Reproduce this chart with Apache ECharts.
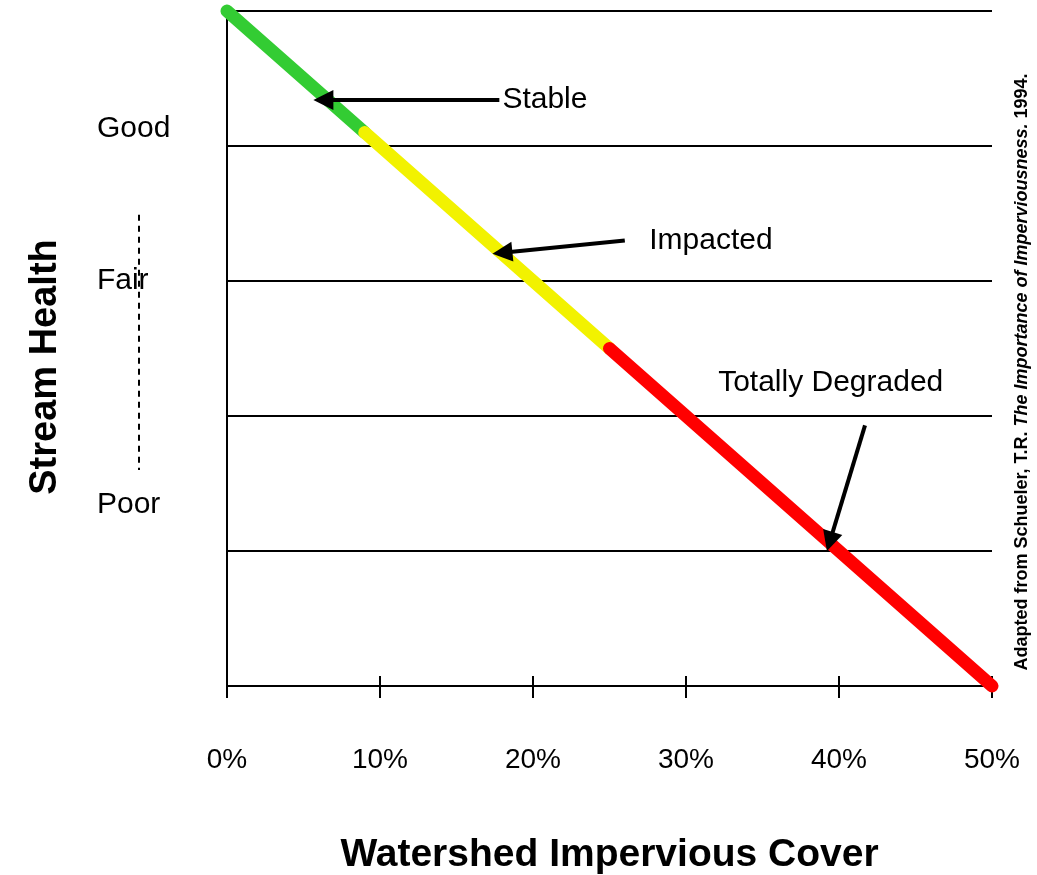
<!DOCTYPE html>
<html>
<head>
<meta charset="utf-8">
<script src="https://cdn.jsdelivr.net/npm/echarts@6/dist/echarts.min.js"></script>
<style>
  html, body { margin: 0; padding: 0; background: #fff; }
  #chart { width: 1037px; height: 875px; }
</style>
</head>
<body>
<div id="chart"></div>
<script>
// stream health declines as impervious cover grows
const coverPct = [0, 9, 25, 50];
const healthScore = [5, 4.1, 2.5, 0];
const segmentColors = ['#33cc33', '#f2f200', '#ff0000'];

const xTicks = [0, 10, 20, 30, 40, 50];

// health class labels on the left
const healthLabels = ['Good', 'Fair', 'Poor'];
const healthLevels = [4.13, 3.0, 1.34];
const healthLabelX = -8.5;

// callouts: text anchor and arrow from/to
const calloutText = ['Stable', 'Impacted', 'Totally Degraded'];
const calloutTextPos = [[18.0, 4.34], [27.6, 3.30], [32.1, 2.25]];
const arrowFrom = [[17.8, 4.34], [26.0, 3.30], [41.7, 1.93]];
const arrowTo = [[6.3, 4.34], [18.0, 3.21], [39.4, 1.07]];

// dashed marker beside the class labels
const dashX = [-5.75, -5.75];
const dashY = [3.49, 1.6];

const chart = echarts.init(document.getElementById('chart'));
const font = 'Liberation Sans, Arial, sans-serif';

const series = [];

// thin dashed guide
series.push({
  type: 'lines',
  coordinateSystem: 'cartesian2d',
  clip: false,
  silent: true,
  symbol: 'none',
  lineStyle: { color: '#000', width: 2, type: [6, 5], opacity: 1 },
  data: [{ coords: dashX.map((x, i) => [x, dashY[i]]) }],
  z: 3
});

// coloured segments
for (let i = 0; i < segmentColors.length; i++) {
  series.push({
    type: 'line',
    clip: false,
    silent: true,
    symbol: 'none',
    lineStyle: { color: segmentColors[i], width: 13, cap: 'round' },
    data: [[coverPct[i], healthScore[i]], [coverPct[i + 1], healthScore[i + 1]]],
    z: 4 + i
  });
}

// arrows
series.push({
  type: 'lines',
  coordinateSystem: 'cartesian2d',
  clip: false,
  silent: true,
  symbol: ['none', 'triangle'],
  symbolSize: [18, 20],
  lineStyle: { color: '#000', width: 4, opacity: 1 },
  data: arrowFrom.map((from, i) => ({ coords: [from, arrowTo[i]] })),
  z: 10
});

const textLabel = {
  show: true,
  position: 'right',
  distance: 0,
  align: 'left',
  verticalAlign: 'middle',
  color: '#000',
  textBorderWidth: 0,
  fontFamily: font,
  fontSize: 30
};

// callout text
series.push({
  type: 'scatter',
  clip: false,
  silent: true,
  symbolSize: 0,
  itemStyle: { opacity: 1 },
  label: Object.assign({}, textLabel, { formatter: p => calloutText[p.dataIndex] }),
  data: calloutTextPos,
  z: 11
});

// health class text
series.push({
  type: 'scatter',
  clip: false,
  silent: true,
  symbolSize: 0,
  itemStyle: { opacity: 1 },
  label: Object.assign({}, textLabel, { formatter: p => healthLabels[p.dataIndex] }),
  data: healthLevels.map(y => [healthLabelX, y]),
  z: 11
});

const option = {
  backgroundColor: '#fff',
  animation: false,
  grid: { left: 227, right: 45, top: 11, bottom: 189, outerBoundsMode: 'none', containLabel: false },
  xAxis: [
    {
      type: 'value',
      position: 'bottom',
      min: 0,
      max: 50,
      interval: 10,
      axisLine: { show: true, lineStyle: { color: '#000', width: 2 } },
      axisTick: { show: true, length: 12, lineStyle: { color: '#000', width: 2 } },
      axisLabel: {
        margin: 60,
        color: '#000',
        fontFamily: font,
        fontSize: 28,
        formatter: v => xTicks.includes(v) ? v + '%' : ''
      },
      splitLine: { show: false },
      name: 'Watershed Impervious Cover',
      nameLocation: 'middle',
      nameGap: 150,
      nameTextStyle: { color: '#000', fontFamily: font, fontSize: 39, fontWeight: 'bold' }
    },
    {
      type: 'value',
      position: 'bottom',
      min: 0,
      max: 50,
      interval: 10,
      axisLine: { show: false },
      axisTick: { show: true, inside: true, length: 10, lineStyle: { color: '#000', width: 2 } },
      axisLabel: { show: false },
      splitLine: { show: false }
    }
  ],
  yAxis: [
    {
      type: 'value',
      min: 0,
      max: 5,
      interval: 1,
      axisLine: { show: true, lineStyle: { color: '#000', width: 2 } },
      axisTick: { show: false },
      axisLabel: { show: false },
      splitLine: { show: true, lineStyle: { color: '#000', width: 2 } }
    },
    {
      type: 'value',
      position: 'right',
      min: 0,
      max: 5,
      interval: 1,
      axisLine: { show: true, lineStyle: { color: '#000', width: 2 } },
      axisTick: { show: false },
      axisLabel: { show: false },
      splitLine: { show: false }
    }
  ],
  graphic: [
    {
      type: 'text',
      x: 46,
      y: 367,
      rotation: Math.PI / 2,
      style: {
        text: 'Stream Health',
        fill: '#000',
        font: 'bold 38px ' + font,
        align: 'center',
        verticalAlign: 'middle'
      }
    },
    {
      type: 'text',
      x: 1022,
      y: 372,
      rotation: Math.PI / 2,
      style: {
        text: '{a|Adapted from Schueler, T.R. }{b|The Importance of Imperviousness.}{a| 1994.}',
        align: 'center',
        verticalAlign: 'middle',
        rich: {
          a: { fill: '#000', font: 'bold 18px ' + font },
          b: { fill: '#000', font: 'italic bold 18px ' + font }
        }
      }
    }
  ],
  series: series
};

chart.setOption(option);
</script>
</body>
</html>
